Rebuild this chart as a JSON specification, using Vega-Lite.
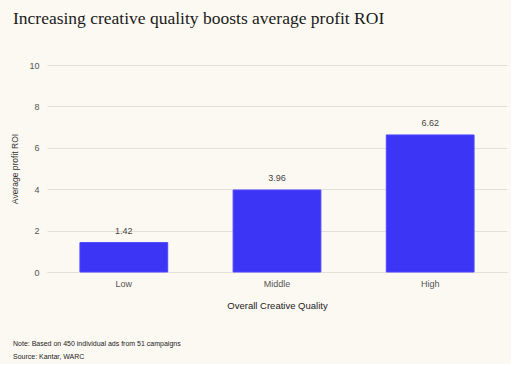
{
  "$schema": "https://vega.github.io/schema/vega-lite/v6.json",
  "background": "#fcf9f2",
  "padding": {"left": 10, "top": 9, "right": 4, "bottom": 4},
  "title": {
    "text": "Increasing creative quality boosts average profit ROI",
    "anchor": "start",
    "frame": "bounds",
    "dx": 2,
    "font": "Liberation Serif",
    "fontSize": 17.5,
    "fontWeight": "normal",
    "color": "#1a1a1a",
    "offset": 34
  },
  "config": {
    "view": {"stroke": null},
    "font": "Liberation Sans",
    "axis": {
      "labelFont": "Liberation Sans",
      "titleFont": "Liberation Sans",
      "labelColor": "#555555",
      "titleColor": "#333333",
      "labelFontSize": 9,
      "titleFontSize": 8.5,
      "titleFontWeight": "normal",
      "ticks": false,
      "gridColor": "#e4e0d8",
      "domainColor": "#e4e0d8"
    }
  },
  "vconcat": [
    {
      "title": {
        "text": ["Note: Based on 450 individual ads from 51 campaigns", "Source: Kantar, WARC"],
        "orient": "bottom",
        "anchor": "start",
        "frame": "bounds",
        "dx": 2,
        "font": "Liberation Sans",
        "fontSize": 7,
        "fontWeight": "normal",
        "color": "#222222",
        "lineHeight": 13,
        "offset": 30
      },
      "width": 460,
      "height": 207,
      "data": {
        "values": [
          {"quality": "Low", "roi": 1.42},
          {"quality": "Middle", "roi": 3.96},
          {"quality": "High", "roi": 6.62}
        ]
      },
      "encoding": {
        "x": {
          "field": "quality",
          "type": "nominal",
          "sort": ["Low", "Middle", "High"],
          "scale": {"paddingInner": 0.427, "paddingOuter": 0.215},
          "axis": {"title": "Overall Creative Quality", "labelAngle": 0, "labelPadding": 7, "titlePadding": 12, "titleFontSize": 9.5, "titleColor": "#222222", "domain": true}
        },
        "y": {
          "field": "roi",
          "type": "quantitative",
          "scale": {"domain": [0, 10]},
          "axis": {"title": "Average profit ROI", "values": [0, 2, 4, 6, 8, 10], "labelPadding": 8, "titlePadding": 9, "domain": false}
        }
      },
      "layer": [
        {"mark": {"type": "bar", "fill": "#3d35f5", "stroke": "#4d47ff", "strokeWidth": 1}},
        {"mark": {"type": "text", "dy": -7, "baseline": "bottom", "fontSize": 9, "color": "#444444"}, "encoding": {"text": {"field": "roi", "type": "quantitative", "format": ".2f"}}}
      ]
    }
  ]
}
